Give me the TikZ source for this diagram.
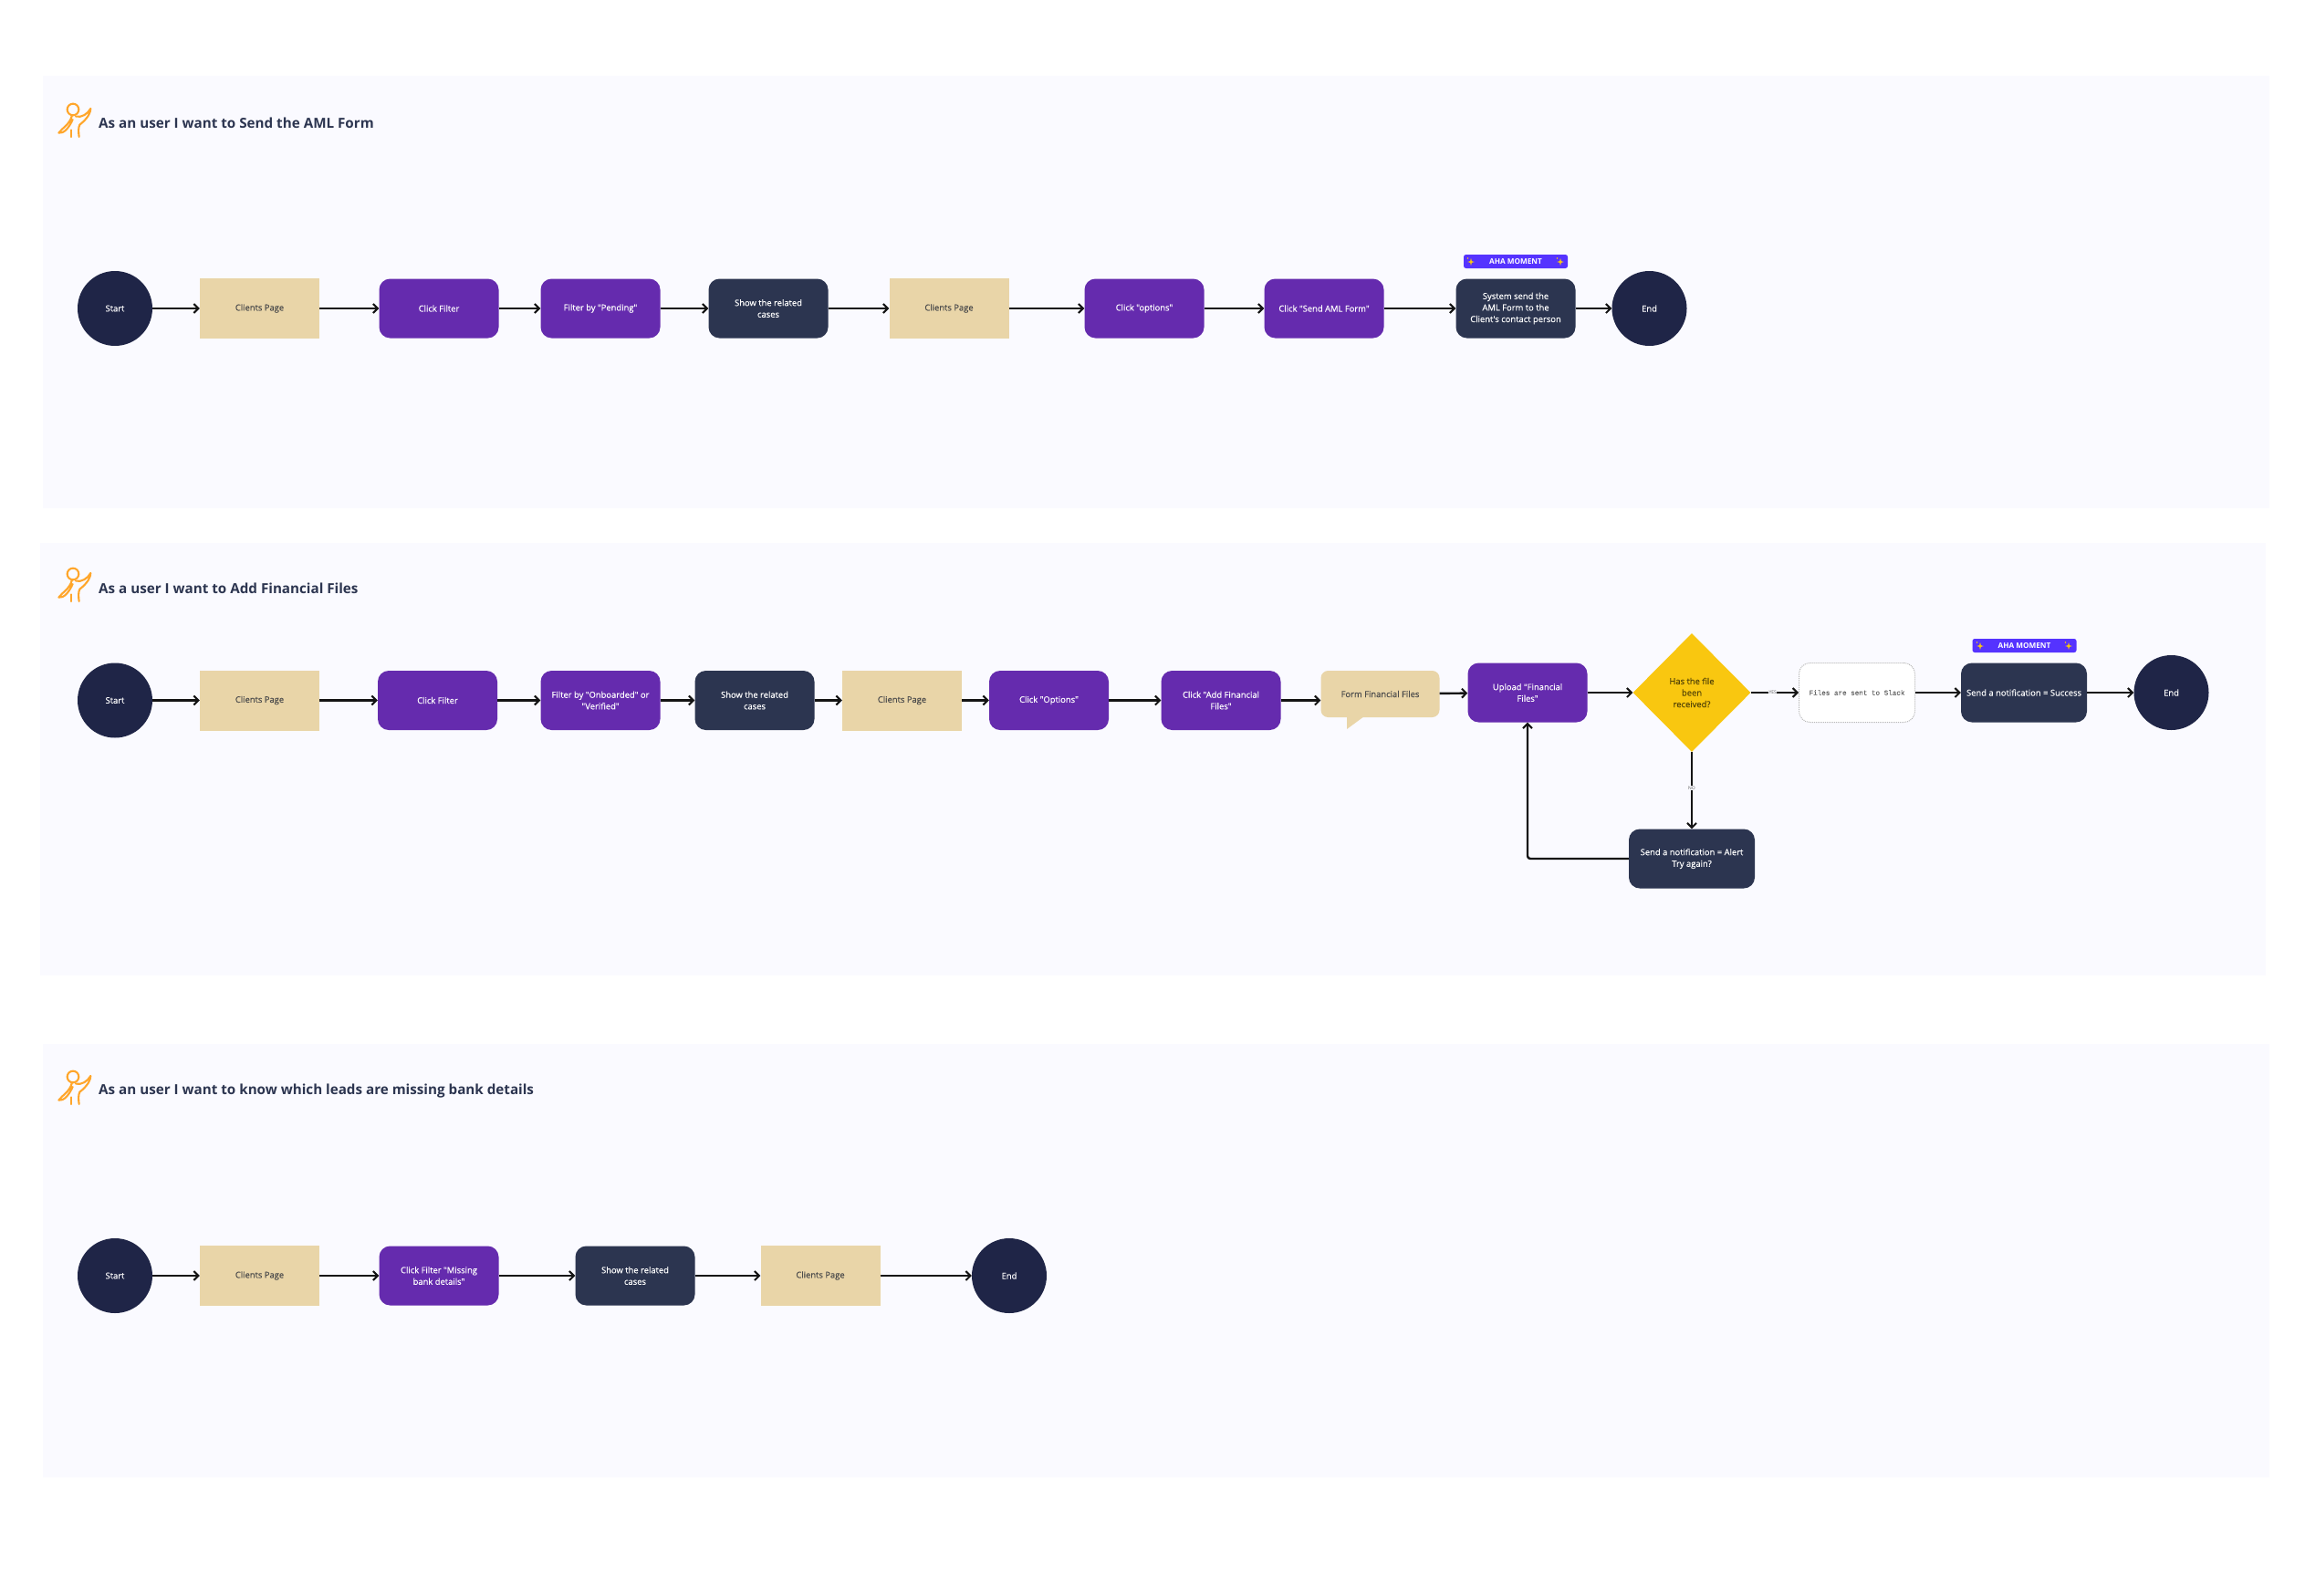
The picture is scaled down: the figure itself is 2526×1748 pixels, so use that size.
\documentclass[tikz,border=0pt]{standalone}
\usepackage{fontspec}
\setmainfont{Open Sans}
\newfontfamily\labelfont[FakeBold=0.25]{Open Sans}
\newfontfamily\slackfont[FakeBold=0.2]{Liberation Mono}
\usetikzlibrary{arrows.meta,shapes.geometric}
\definecolor{panelbg}{HTML}{FAFAFF}
\definecolor{navy}{HTML}{1F2547}
\definecolor{slate}{HTML}{2C3550}
\definecolor{tan}{HTML}{E9D5A8}
\definecolor{violet}{HTML}{652BAE}
\definecolor{amber}{HTML}{F9C710}
\definecolor{badge}{HTML}{5533FF}
\definecolor{iconorange}{HTML}{FFA62B}
\tikzset{
  panel/.style={fill=panelbg,draw=none},
  lbl/.style={font=\labelfont\fontsize{9.4}{12.6}\selectfont,align=center,inner sep=0pt},
  roundcircle/.style={circle,fill=navy,text=white,lbl,minimum size=82pt},
  pagebox/.style={rectangle,fill=tan,text=black!70,lbl,minimum width=131pt,minimum height=66pt},
  actionbox/.style={rectangle,rounded corners=12pt,fill=violet,text=white,lbl,minimum width=131pt,minimum height=65pt},
  systembox/.style={rectangle,rounded corners=12pt,fill=slate,text=white,lbl,minimum width=131pt,minimum height=65pt},
  widesys/.style={systembox,minimum width=138pt},
  callout/.style={rectangle,rounded corners=8pt,fill=tan,text=black!70,lbl,minimum width=130pt,minimum height=51pt},
  decision/.style={diamond,shape aspect=1,fill=amber,text=black!65!amber,lbl,minimum width=129pt,minimum height=130pt},
  slackbox/.style={rectangle,rounded corners=12pt,fill=white,draw=black!28,densely dotted,line width=1pt,text=black!60,inner sep=0pt,font=\slackfont\fontsize{7.6}{10}\selectfont,minimum width=127pt,minimum height=65pt},
  ahabadge/.style={rectangle,rounded corners=2.5pt,fill=badge,text=white,inner sep=0pt,font=\fontsize{8.2}{10}\bfseries\selectfont,minimum width=114pt,minimum height=15pt},
  headline/.style={anchor=west,inner sep=0pt,text=slate,font=\fontsize{15.2}{18}\bfseries\selectfont},
  flow/.style={draw=black!92,line width=2.4pt,-{Straight Barb[length=5pt,width=10pt,line width=2pt]}},
  edgetag/.style={fill=panelbg,text=black!65,inner sep=0.5pt,font=\fontsize{5}{6}\selectfont},
  person/.pic={
    \begin{scope}[x=0.3333pt,y=-0.3333pt,iconorange,line width=2.1pt,line cap=round,line join=round]
      \draw (75,45) circle[radius=19];
      \draw (72,64) .. controls (64,95) and (40,105) .. (28,122) .. controls (45,125) and (62,105) .. (74,78);
      \draw (84,68) .. controls (105,72) and (122,60) .. (133,42) .. controls (132,65) and (110,85) .. (97,95) .. controls (92,105) and (93,120) .. (95,135);
      \draw (68,112) -- (68,135);
    \end{scope}
  },
  spark/.pic={
    \fill[amber] (0,-4) .. controls (0.4,-0.8) .. (4,0) .. controls (0.4,0.8) .. (0,4) .. controls (-0.4,0.8) .. (-4,0) .. controls (-0.4,-0.8) .. (0,-4);
    \fill[amber] (-3.5,-4) circle[radius=0.8];
  }
}
\begin{document}
\begin{tikzpicture}[x=1pt,y=-1pt]
\useasboundingbox (0,0) rectangle (2526,1748);
\fill[white] (0,0) rectangle (2526,1748);
% panels
\fill[panel] (47,83) rectangle (2487,557);
\fill[panel] (44,595) rectangle (2483,1069);
\fill[panel] (47,1144) rectangle (2487,1619);
% headings
\pic at (55,105) {person};
\pic at (55,614) {person};
\pic at (55,1165) {person};
\node[headline] (t1) at (108,134.5) {As an user I want to Send the AML Form};
\node[headline] (t2) at (108,644.5) {As a user I want to Add Financial Files};
\node[headline] (t3) at (108,1195.5) {As an user I want to know which leads are missing bank details};
% row 1
\node[roundcircle] (a0) at (126,338) {Start};
\node[pagebox] (a1) at (284.5,338) {Clients Page};
\node[actionbox] (a2) at (481,338) {Click Filter};
\node[actionbox] (a3) at (658,338) {Filter by "Pending"};
\node[systembox] (a4) at (842,338) {Show the related\\cases};
\node[pagebox] (a5) at (1040,338) {Clients Page};
\node[actionbox] (a6) at (1254,338) {Click "options"};
\node[actionbox] (a7) at (1451,338) {Click "Send AML Form"};
\node[systembox] (a8) at (1661,338) {System send the\\AML Form to the\\Client's contact person};
\node[roundcircle] (a9) at (1807.5,338) {End};
\node[ahabadge] (aha1) at (1661,286.5) {AHA MOMENT};
\pic at (1612,287) {spark};
\pic at (1710,287) {spark};
\foreach \u/\v in {a0/a1,a1/a2,a2/a3,a3/a4,a4/a5,a5/a6,a6/a7,a7/a8,a8/a9}
  \draw[flow] (\u) -- (\v);
% row 2
\node[roundcircle] (b0) at (126,767.5) {Start};
\node[pagebox] (b1) at (284.5,767.5) {Clients Page};
\node[actionbox] (b2) at (479.5,767.5) {Click Filter};
\node[actionbox] (b3) at (658,767.5) {Filter by "Onboarded" or\\"Verified"};
\node[systembox] (b4) at (827,767.5) {Show the related\\cases};
\node[pagebox] (b5) at (988.5,767.5) {Clients Page};
\node[actionbox] (b6) at (1149.5,767.5) {Click "Options"};
\node[actionbox] (b7) at (1338,767.5) {Click "Add Financial\\Files"};
\node[callout] (b8) at (1512.5,760.5) {Form Financial Files};
\fill[tan] (1476,784) -- (1476,799) -- (1495,785) -- cycle;
\node[actionbox] (b9) at (1674,759) {Upload "Financial\\Files"};
\node[decision] (b10) at (1854,759) {Has the file\\been\\received?};
\node[slackbox] (b11) at (2035,759) {Files are sent to Slack};
\node[widesys] (b12) at (2218,759) {Send a notification = Success};
\node[roundcircle] (b13) at (2379.5,759) {End};
\node[widesys] (b14) at (1854,941) {Send a notification = Alert\\Try again?};
\node[ahabadge] (aha2) at (2218.5,707.5) {AHA MOMENT};
\pic at (2170,708) {spark};
\pic at (2267,708) {spark};
\foreach \u/\v in {b0/b1,b1/b2,b2/b3,b3/b4,b4/b5,b5/b6,b6/b7,b8/b9,b9/b10,b11/b12,b12/b13}
  \draw[flow] (\u) -- (\v);
\draw[flow] (b7.east) -- (b7.east -| b8.west);
\draw[flow] (b10.east) -- node[edgetag,pos=0.46] (yes) {YES} (b11.west);
\draw[flow] (b10.south) -- node[edgetag,pos=0.47] (no) {NO} (b14.north);
\draw[flow,rounded corners=3pt] (b14.west) -| (b9.south);
% row 3
\node[roundcircle] (c0) at (126,1398) {Start};
\node[pagebox] (c1) at (284.5,1398) {Clients Page};
\node[actionbox] (c2) at (481,1398) {Click Filter "Missing\\bank details"};
\node[systembox] (c3) at (696,1398) {Show the related\\cases};
\node[pagebox] (c4) at (899,1398) {Clients Page};
\node[roundcircle] (c5) at (1106,1398) {End};
\foreach \u/\v in {c0/c1,c1/c2,c2/c3,c3/c4,c4/c5}
  \draw[flow] (\u) -- (\v);
\end{tikzpicture}
\end{document}
